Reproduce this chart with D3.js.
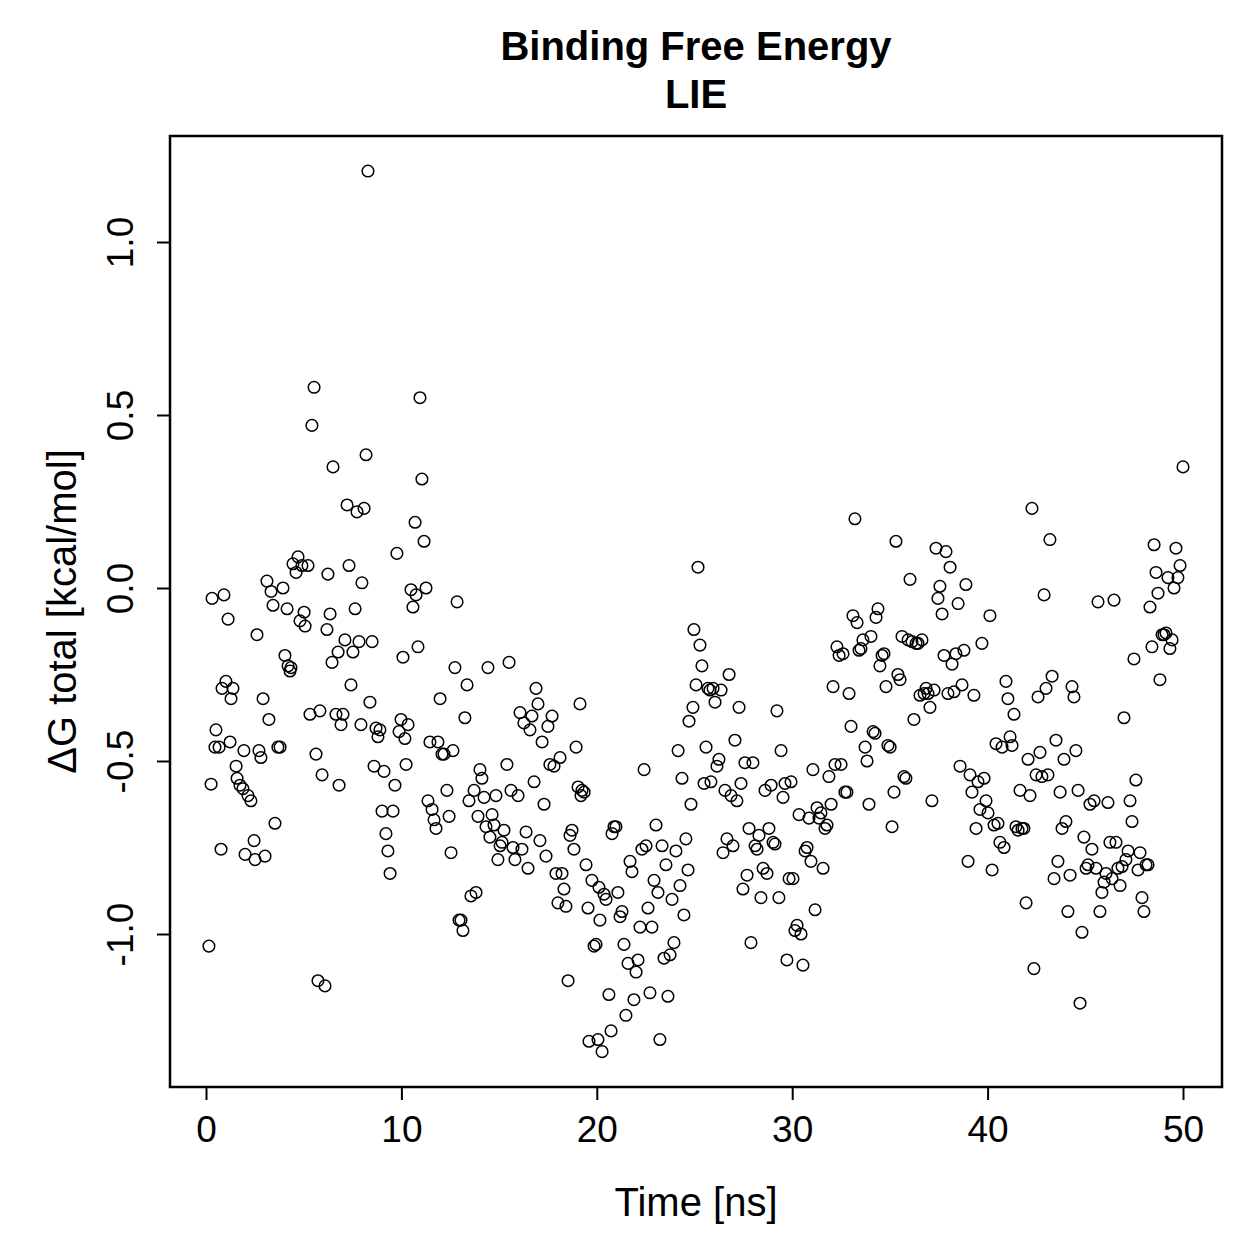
<!DOCTYPE html>
<html>
<head>
<meta charset="utf-8">
<script src="https://cdn.jsdelivr.net/npm/d3@7"></script>
<style>
  body { margin: 0; background: #fff; }
  text { font-family: "Liberation Sans", Arial, Helvetica, sans-serif; fill: #000; }
</style>
</head>
<body>
<svg id="chart"></svg>
<script>
// simulation time (ns)
let time = [0.15,0.26,0.31,0.46,0.51,0.67,0.77,0.82,0.92,1.02,1.13,1.23,1.28,1.38,1.54,1.59,1.74,1.89,1.94,2.00,2.15,2.30,2.46,2.51,2.61,2.71,2.81,2.92,3.02,3.12,3.22,3.33,3.43,3.53,3.68,3.79,3.94,4.04,4.15,4.20,4.30,4.35,4.45,4.61,4.71,4.81,4.91,5.02,5.07,5.22,5.32,5.42,5.53,5.63,5.73,5.83,5.94,6.09,6.19,6.24,6.35,6.45,6.50,6.65,6.76,6.81,6.91,7.01,7.11,7.22,7.32,7.42,7.52,7.63,7.73,7.83,7.93,7.98,8.09,8.19,8.29,8.39,8.50,8.60,8.70,8.80,8.90,9.01,9.11,9.21,9.31,9.42,9.57,9.67,9.77,9.88,9.98,10.08,10.18,10.24,10.34,10.49,10.59,10.70,10.75,10.85,10.95,11.05,11.16,11.26,11.36,11.46,11.57,11.67,11.77,11.87,11.98,12.08,12.18,12.33,12.44,12.54,12.64,12.74,12.85,12.95,13.05,13.15,13.25,13.36,13.46,13.56,13.72,13.82,13.92,14.02,14.12,14.23,14.33,14.43,14.53,14.64,14.74,14.84,14.94,15.05,15.15,15.25,15.40,15.51,15.61,15.71,15.81,15.97,16.07,16.17,16.27,16.38,16.48,16.58,16.68,16.79,16.89,16.99,17.09,17.20,17.30,17.40,17.50,17.60,17.71,17.81,17.91,18.01,18.12,18.22,18.32,18.42,18.53,18.63,18.73,18.83,18.94,19.04,19.14,19.19,19.24,19.35,19.45,19.55,19.60,19.75,19.86,19.96,20.06,20.11,20.16,20.27,20.37,20.47,20.62,20.73,20.78,20.88,20.98,21.08,21.19,21.29,21.39,21.49,21.60,21.70,21.80,21.90,22.01,22.11,22.21,22.31,22.42,22.52,22.62,22.72,22.82,22.93,23.03,23.13,23.23,23.34,23.44,23.54,23.64,23.75,23.85,23.95,24.05,24.16,24.26,24.36,24.46,24.56,24.67,24.72,24.82,24.92,24.97,25.08,25.18,25.28,25.38,25.49,25.59,25.69,25.79,25.84,25.95,26.05,26.15,26.25,26.36,26.46,26.56,26.66,26.77,26.87,26.97,27.07,27.17,27.28,27.38,27.48,27.58,27.69,27.79,27.89,27.99,28.10,28.20,28.30,28.40,28.51,28.61,28.71,28.81,28.92,29.02,29.12,29.22,29.32,29.43,29.53,29.63,29.73,29.84,29.94,30.04,30.14,30.25,30.35,30.45,30.55,30.66,30.76,30.86,30.96,31.06,31.17,31.27,31.37,31.47,31.58,31.68,31.78,31.88,31.99,32.09,32.19,32.29,32.40,32.50,32.60,32.70,32.80,32.91,33.01,33.11,33.21,33.32,33.42,33.52,33.62,33.73,33.83,33.93,34.03,34.14,34.24,34.29,34.39,34.49,34.60,34.70,34.80,34.90,35.01,35.11,35.21,35.31,35.41,35.52,35.62,35.72,35.82,35.93,36.03,36.13,36.23,36.34,36.44,36.54,36.64,36.75,36.85,36.95,37.05,37.15,37.26,37.36,37.46,37.56,37.67,37.77,37.87,37.97,38.08,38.18,38.28,38.38,38.49,38.59,38.69,38.79,38.89,39.00,39.10,39.20,39.30,39.41,39.51,39.61,39.71,39.82,39.92,40.02,40.12,40.23,40.33,40.43,40.53,40.63,40.74,40.84,40.94,41.04,41.15,41.25,41.35,41.45,41.56,41.66,41.76,41.86,41.97,42.07,42.17,42.27,42.37,42.48,42.58,42.68,42.78,42.89,42.99,43.09,43.19,43.30,43.40,43.50,43.60,43.71,43.81,43.91,44.01,44.11,44.22,44.32,44.42,44.52,44.63,44.73,44.83,44.93,45.04,45.14,45.24,45.34,45.45,45.55,45.65,45.75,45.85,45.96,46.06,46.16,46.26,46.37,46.47,46.57,46.67,46.78,46.88,46.98,47.08,47.19,47.29,47.39,47.49,47.59,47.70,47.80,47.90,48.00,48.11,48.21,48.31,48.41,48.52,48.62,48.72,48.82,48.93,49.03,49.13,49.23,49.33,49.44,49.54,49.64,49.74,49.85,50.00]

// Delta G total (kcal/mol)
let dG = [-1.035,-0.567,-0.03,-0.46,-0.41,-0.46,-0.755,-0.29,-0.02,-0.27,-0.09,-0.445,-0.32,-0.29,-0.515,-0.55,-0.57,-0.58,-0.47,-0.77,-0.60,-0.615,-0.73,-0.785,-0.135,-0.47,-0.49,-0.32,-0.775,0.02,-0.38,-0.01,-0.05,-0.68,-0.46,-0.46,0.0,-0.195,-0.06,-0.225,-0.24,-0.23,0.07,0.045,0.09,-0.095,0.065,-0.07,-0.11,0.065,-0.365,0.47,0.58,-0.48,-1.135,-0.355,-0.54,-1.15,-0.12,0.04,-0.075,-0.215,0.35,-0.365,-0.185,-0.57,-0.395,-0.365,-0.15,0.24,0.065,-0.28,-0.185,-0.06,0.22,-0.155,-0.395,0.015,0.23,0.385,1.205,-0.33,-0.155,-0.515,-0.405,-0.43,-0.41,-0.645,-0.53,-0.71,-0.76,-0.825,-0.645,-0.57,0.10,-0.415,-0.38,-0.2,-0.435,-0.51,-0.395,-0.005,-0.055,0.19,-0.02,-0.17,0.55,0.315,0.135,0.0,-0.615,-0.445,-0.64,-0.67,-0.695,-0.445,-0.32,-0.48,-0.48,-0.585,-0.66,-0.765,-0.47,-0.23,-0.04,-0.96,-0.96,-0.99,-0.375,-0.28,-0.615,-0.89,-0.585,-0.88,-0.66,-0.525,-0.55,-0.605,-0.69,-0.23,-0.72,-0.655,-0.685,-0.6,-0.785,-0.745,-0.735,-0.70,-0.51,-0.215,-0.585,-0.75,-0.785,-0.6,-0.36,-0.755,-0.39,-0.705,-0.81,-0.41,-0.37,-0.56,-0.29,-0.335,-0.73,-0.445,-0.625,-0.775,-0.40,-0.51,-0.37,-0.515,-0.825,-0.91,-0.49,-0.825,-0.87,-0.92,-1.135,-0.715,-0.70,-0.755,-0.46,-0.575,-0.335,-0.6,-0.585,-0.59,-0.80,-0.925,-1.31,-0.845,-1.035,-1.03,-1.305,-0.865,-0.96,-1.34,-0.885,-0.9,-1.175,-1.28,-0.71,-0.69,-0.69,-0.88,-0.95,-0.935,-1.03,-1.235,-1.085,-0.79,-0.82,-1.19,-1.11,-1.075,-0.98,-0.755,-0.525,-0.745,-0.925,-1.17,-0.98,-0.845,-0.685,-0.88,-1.305,-0.745,-1.07,-0.80,-1.18,-1.06,-0.9,-1.025,-0.76,-0.47,-0.86,-0.55,-0.945,-0.725,-0.815,-0.385,-0.625,-0.345,-0.12,-0.28,0.06,-0.165,-0.225,-0.565,-0.46,-0.29,-0.295,-0.56,-0.29,-0.33,-0.515,-0.495,-0.295,-0.765,-0.585,-0.725,-0.25,-0.6,-0.745,-0.44,-0.615,-0.345,-0.565,-0.87,-0.505,-0.83,-0.695,-1.025,-0.505,-0.745,-0.755,-0.715,-0.895,-0.81,-0.585,-0.825,-0.695,-0.57,-0.735,-0.74,-0.355,-0.895,-0.47,-0.605,-0.565,-1.075,-0.84,-0.56,-0.84,-0.99,-0.975,-0.655,-1.0,-1.09,-0.76,-0.75,-0.665,-0.79,-0.525,-0.93,-0.635,-0.665,-0.65,-0.81,-0.695,-0.685,-0.545,-0.625,-0.285,-0.51,-0.17,-0.195,-0.51,-0.19,-0.59,-0.59,-0.305,-0.4,-0.08,0.2,-0.1,-0.18,-0.175,-0.15,-0.46,-0.5,-0.625,-0.14,-0.415,-0.42,-0.085,-0.06,-0.225,-0.195,-0.19,-0.285,-0.455,-0.46,-0.69,-0.59,0.135,-0.25,-0.265,-0.14,-0.545,-0.55,-0.15,0.025,-0.155,-0.38,-0.16,-0.16,-0.31,-0.15,-0.305,-0.29,-0.305,-0.345,-0.615,-0.295,0.115,-0.03,0.005,-0.075,-0.195,0.105,-0.305,0.06,-0.22,-0.3,-0.19,-0.045,-0.515,-0.28,-0.18,0.01,-0.79,-0.54,-0.59,-0.31,-0.695,-0.56,-0.64,-0.16,-0.55,-0.615,-0.65,-0.08,-0.815,-0.685,-0.45,-0.68,-0.735,-0.46,-0.75,-0.27,-0.32,-0.43,-0.455,-0.365,-0.69,-0.70,-0.585,-0.695,-0.695,-0.91,-0.495,-0.6,0.23,-1.1,-0.54,-0.315,-0.475,-0.545,-0.02,-0.29,-0.54,0.14,-0.255,-0.84,-0.44,-0.79,-0.59,-0.695,-0.495,-0.675,-0.935,-0.83,-0.285,-0.315,-0.47,-0.585,-1.2,-0.995,-0.72,-0.81,-0.80,-0.625,-0.755,-0.615,-0.81,-0.04,-0.935,-0.88,-0.85,-0.825,-0.62,-0.735,-0.84,-0.035,-0.735,-0.81,-0.86,-0.805,-0.375,-0.785,-0.76,-0.615,-0.675,-0.205,-0.555,-0.815,-0.765,-0.895,-0.935,-0.8,-0.8,-0.055,-0.17,0.125,0.045,-0.015,-0.265,-0.135,-0.135,-0.13,0.03,-0.175,-0.15,0.0,0.115,0.03,0.065,0.35]

let xTicks = [0, 10, 20, 30, 40, 50]
let yTicks = [-1.0, -0.5, 0.0, 0.5, 1.0]

let titleLines = ["Binding Free Energy", "LIE"]
let xLabel = "Time [ns]"
let yLabel = "\u0394G total [kcal/mol]"

let width = 1259
let height = 1259
let box = { left: 170, right: 1222, top: 136, bottom: 1087 }

let svg = d3.select("#chart")
    .attr("width", width)
    .attr("height", height)

let xScale = d3.scaleLinear().domain([0, 50]).range([206, 1183])
let yScale = d3.scaleLinear().domain([-1, 1]).range([934, 242])

let points = d3.zip(time, dG)

// plot frame
svg.append("rect")
    .attr("x", box.left)
    .attr("y", box.top)
    .attr("width", box.right - box.left)
    .attr("height", box.bottom - box.top)
    .attr("fill", "none")
    .attr("stroke", "#000")
    .attr("stroke-width", 2.5)

// x axis
let xAxis = d3.axisBottom(xScale)
    .tickValues(xTicks)
    .tickFormat(d3.format("d"))
    .tickSize(13)
    .tickPadding(16)

let xg = svg.append("g")
    .attr("transform", `translate(0,${box.bottom})`)
    .call(xAxis)
xg.select(".domain").remove()
xg.selectAll("line").attr("stroke-width", 2)
xg.selectAll("text")
    .attr("font-size", 37)
    .attr("font-family", "Liberation Sans, Arial, sans-serif")

// y axis, labels parallel to the axis like base R (plain hyphen minus)
let fmt = d3.format(".1f")
let yAxis = d3.axisLeft(yScale)
    .tickValues(yTicks)
    .tickFormat(d => fmt(d).replace("\u2212", "-"))
    .tickSize(13)

let yg = svg.append("g")
    .attr("transform", `translate(${box.left},0)`)
    .call(yAxis)
yg.select(".domain").remove()
yg.selectAll("line").attr("stroke-width", 2)
yg.selectAll("text")
    .attr("x", null)
    .attr("dy", null)
    .attr("font-size", 37)
    .attr("font-family", "Liberation Sans, Arial, sans-serif")
    .attr("text-anchor", "middle")
    .attr("transform", "translate(-37,0) rotate(-90)")

// points
svg.append("g")
    .selectAll("circle")
    .data(points)
    .enter()
    .append("circle")
    .attr("cx", d => xScale(d[0]))
    .attr("cy", d => yScale(d[1]))
    .attr("r", 5.8)
    .attr("fill", "none")
    .attr("stroke", "#000")
    .attr("stroke-width", 1.5)

// titles
svg.append("g")
    .selectAll("text")
    .data(titleLines)
    .enter()
    .append("text")
    .attr("x", (box.left + box.right) / 2)
    .attr("y", (d, i) => 60 + i * 48)
    .attr("text-anchor", "middle")
    .attr("font-size", 40)
    .attr("font-weight", "bold")
    .text(d => d)

svg.append("text")
    .attr("x", (box.left + box.right) / 2)
    .attr("y", 1216)
    .attr("text-anchor", "middle")
    .attr("font-size", 40)
    .text(xLabel)

svg.append("text")
    .attr("transform", `translate(76,${(box.top + box.bottom) / 2}) rotate(-90)`)
    .attr("text-anchor", "middle")
    .attr("font-size", 40)
    .text(yLabel)
</script>
</body>
</html>
